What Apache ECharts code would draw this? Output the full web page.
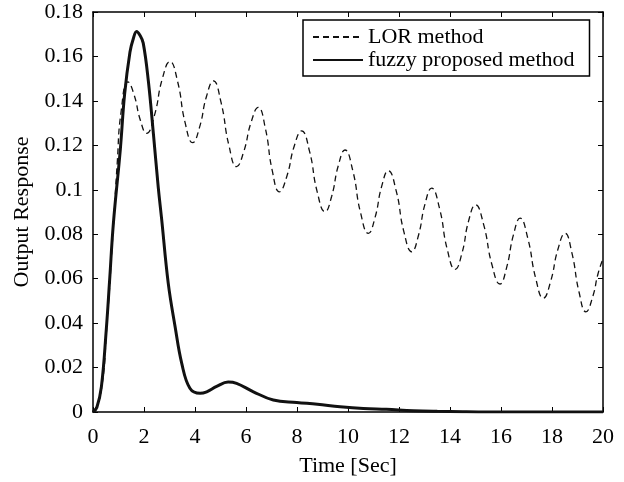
<!DOCTYPE html>
<html>
<head>
<meta charset="utf-8">
<script src="https://cdn.jsdelivr.net/npm/echarts@6/dist/echarts.min.js"></script>
<style>
html,body{margin:0;padding:0;background:#fff;}
#chart{width:624px;height:482px;}
</style>
</head>
<body>
<div id="chart"></div>
<script>
// ---- data ----
const lorTime = [0, 0.3, 0.55, 0.78, 0.95, 1.1, 1.37, 1.61, 1.86, 2.1, 2.41, 2.71, 3.02, 3.32, 3.61, 3.91, 4.18, 4.45, 4.72, 5.02, 5.33, 5.63, 5.91, 6.2, 6.48, 6.76, 7.03, 7.31, 7.6, 7.89, 8.18, 8.49, 8.79, 9.1, 9.36, 9.62, 9.88, 10.19, 10.49, 10.8, 11.06, 11.32, 11.58, 11.89, 12.19, 12.5, 12.76, 13.02, 13.28, 13.59, 13.89, 14.2, 14.47, 14.73, 15.0, 15.32, 15.64, 15.96, 16.22, 16.49, 16.75, 17.05, 17.36, 17.66, 17.94, 18.23, 18.51, 18.78, 19.06, 19.33, 19.6, 19.8, 20];
const lorValues = [0, 0.008, 0.04, 0.08, 0.112, 0.135, 0.1486, 0.1428, 0.1312, 0.1254, 0.1335, 0.1496, 0.1577, 0.1486, 0.1303, 0.1212, 0.1282, 0.142, 0.149, 0.1394, 0.12, 0.1104, 0.1171, 0.1304, 0.1371, 0.1276, 0.1086, 0.0991, 0.106, 0.1196, 0.1265, 0.1174, 0.0992, 0.0901, 0.0971, 0.1109, 0.1179, 0.1085, 0.0898, 0.0804, 0.0875, 0.1015, 0.1086, 0.0995, 0.0812, 0.0721, 0.0793, 0.0936, 0.1007, 0.0916, 0.0733, 0.0642, 0.0715, 0.086, 0.0932, 0.0843, 0.0665, 0.0576, 0.065, 0.0798, 0.0872, 0.0782, 0.0602, 0.0512, 0.0585, 0.0731, 0.0804, 0.0716, 0.054, 0.0451, 0.052, 0.062, 0.069];

const fuzzyTime = [0, 0.15, 0.33, 0.52, 0.65, 0.8, 1.07, 1.24, 1.45, 1.58, 1.71, 1.84, 1.97, 2.17, 2.37, 2.56, 2.69, 2.95, 3.22, 3.48, 3.8, 4.2, 4.46, 4.85, 5.3, 5.63, 6.29, 7.07, 7.99, 8.8, 9.69, 10.6, 11.5, 12.56, 13.5, 14.5, 15.5, 20];
const fuzzyValues = [0, 0.002, 0.0114, 0.037, 0.059, 0.085, 0.118, 0.143, 0.162, 0.168, 0.1712, 0.1695, 0.166, 0.149, 0.125, 0.101, 0.087, 0.058, 0.0384, 0.0219, 0.0107, 0.0084, 0.0091, 0.0115, 0.0135, 0.0129, 0.0091, 0.0054, 0.0043, 0.0035, 0.0024, 0.0016, 0.0012, 0.0006, 0.0003, 0.0001, 0, 0];

const seriesNames = ['LOR method', 'fuzzy proposed method'];
const xTitle = 'Time [Sec]';
const yTitle = 'Output Response';
const xRange = [0, 20, 2];
const yRange = [0, 0.18, 0.02];

// ---- chart ----
const FONT = '"Liberation Serif", "Times New Roman", serif';
const pair = (xs, ys) => xs.map((x, i) => [x, ys[i]]);
const axisLine = { show: true, onZero: false, lineStyle: { color: '#000', width: 1.5 } };
const tickIn = { show: true, inside: true, length: 5, lineStyle: { color: '#000', width: 1 } };

const chart = echarts.init(document.getElementById('chart'), null, { renderer: 'canvas' });
chart.setOption({
  backgroundColor: '#fff',
  animation: false,
  grid: { left: 93, right: 21, top: 12, bottom: 70, containLabel: false },
  legend: {
    orient: 'vertical',
    left: 303, top: 20,
    padding: [6, 15, 5, 9],
    itemGap: 1,
    itemWidth: 50, itemHeight: 14,
    backgroundColor: '#fff',
    borderColor: '#000', borderWidth: 1.5,
    itemStyle: { opacity: 0 },
    textStyle: { fontFamily: FONT, fontSize: 22, color: '#000', lineHeight: 22 },
    data: seriesNames
  },
  xAxis: [{
    type: 'value', position: 'bottom',
    min: xRange[0], max: xRange[1], interval: xRange[2],
    name: xTitle, nameLocation: 'middle', nameGap: 43,
    nameTextStyle: { fontFamily: FONT, fontSize: 22, color: '#000' },
    axisLine: axisLine, axisTick: tickIn,
    axisLabel: { fontFamily: FONT, fontSize: 22, color: '#000', margin: 14 },
    splitLine: { show: false }
  }, {
    type: 'value', position: 'top',
    min: xRange[0], max: xRange[1], interval: xRange[2],
    axisLine: axisLine, axisTick: tickIn,
    axisLabel: { show: false }, splitLine: { show: false }
  }],
  yAxis: [{
    type: 'value', position: 'left',
    min: yRange[0], max: yRange[1], interval: yRange[2],
    name: yTitle, nameLocation: 'middle', nameGap: 60,
    nameTextStyle: { fontFamily: FONT, fontSize: 22, color: '#000' },
    axisLine: axisLine, axisTick: tickIn,
    axisLabel: { fontFamily: FONT, fontSize: 22, color: '#000', margin: 10,
      formatter: v => String(+v.toFixed(2)) },
    splitLine: { show: false }
  }, {
    type: 'value', position: 'right',
    min: yRange[0], max: yRange[1], interval: yRange[2],
    axisLine: axisLine, axisTick: tickIn,
    axisLabel: { show: false }, splitLine: { show: false }
  }],
  series: [{
    name: seriesNames[0], type: 'line',
    xAxisIndex: 0, yAxisIndex: 0,
    data: pair(lorTime, lorValues),
    smooth: 0.5, symbol: 'none',
    lineStyle: { color: '#111', width: 1.3, type: [6, 4] },
    itemStyle: { color: '#111' },
    z: 3
  }, {
    name: seriesNames[1], type: 'line',
    xAxisIndex: 0, yAxisIndex: 0,
    data: pair(fuzzyTime, fuzzyValues),
    smooth: 0.4, symbol: 'none',
    lineStyle: { color: '#111', width: 3 },
    itemStyle: { color: '#111' },
    z: 4
  }]
});
</script>
</body>
</html>
